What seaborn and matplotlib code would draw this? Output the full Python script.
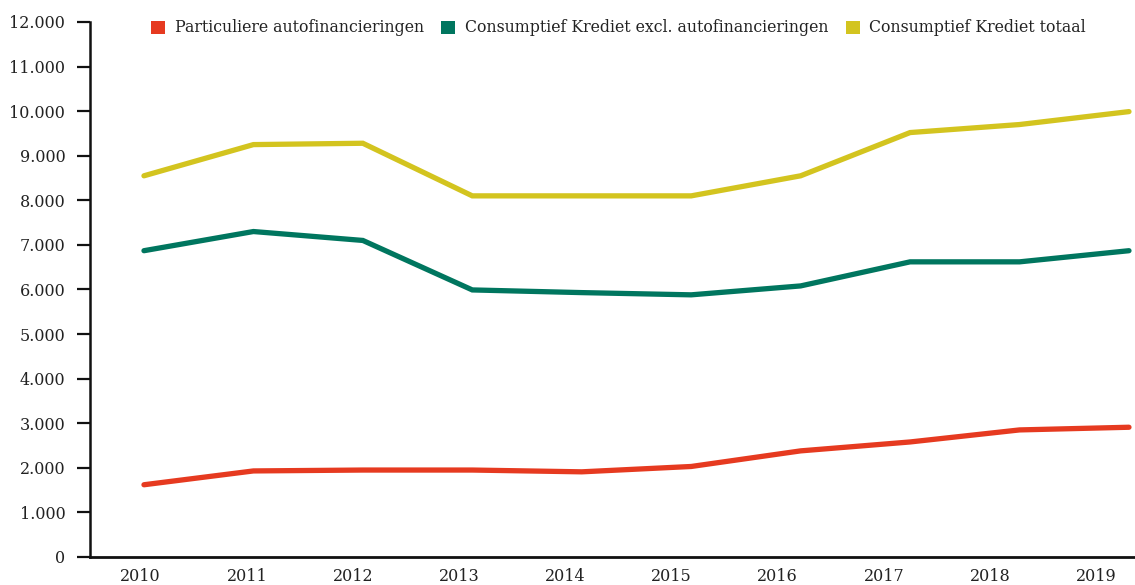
import numpy as np
import pandas as pd
import matplotlib.pyplot as plt
import matplotlib.ticker as mticker
from matplotlib.patches import Patch
import seaborn as sns

years = [2010, 2011, 2012, 2013, 2014, 2015, 2016, 2017, 2018, 2019]
series_names = [
    "Particuliere autofinancieringen",
    "Consumptief Krediet excl. autofinancieringen",
    "Consumptief Krediet totaal",
]
auto = [1620, 1930, 1950, 1950, 1910, 2030, 2380, 2580, 2850, 2910]
excl_auto = [6870, 7300, 7100, 5990, 5930, 5880, 6080, 6620, 6620, 6870]
totaal = [8550, 9250, 9280, 8100, 8100, 8100, 8550, 9520, 9700, 9990]
colors = ["#e63a20", "#00765f", "#d3c41f"]

df = pd.DataFrame({"jaar": years, series_names[0]: auto,
                   series_names[1]: excl_auto, series_names[2]: totaal})
long_df = df.melt(id_vars="jaar", var_name="reeks", value_name="waarde")

sns.set_style("white")
plt.rcParams["font.family"] = ["DejaVu Serif"]
plt.rcParams["text.color"] = "#222222"

fig = plt.figure(figsize=(11.35, 5.85), dpi=100)
ax = fig.add_axes([0.0793, 0.0479, 0.9207, 0.9145])

sns.lineplot(data=long_df, x="jaar", y="waarde", hue="reeks",
             hue_order=series_names, palette=colors, linewidth=3.8,
             legend=False, ax=ax, solid_capstyle="round", solid_joinstyle="miter")

# axes ranges / ticks
ax.set_xlim(2009.507, 2019.055)
ax.set_ylim(0, 12000)
ax.set_yticks(range(0, 12001, 1000))
ax.yaxis.set_major_formatter(mticker.FuncFormatter(lambda v, p: f"{int(v):,}".replace(",", ".")))
ax.set_xticks(np.linspace(2009.97, 2018.70, len(years)), labels=[str(y) for y in years])
ax.tick_params(axis="y", left=True, length=9.5, width=1.6, color="#111111", labelsize=11.5,
               labelcolor="#222222", pad=8.3)
ax.tick_params(axis="x", bottom=False, length=0, labelsize=11.5, labelcolor="#222222", pad=8)
ax.set_xlabel("")
ax.set_ylabel("")

for s in ["top", "right"]:
    ax.spines[s].set_visible(False)
ax.spines["left"].set_linewidth(1.8)
ax.spines["bottom"].set_linewidth(2.0)
ax.spines["left"].set_color("#111111")
ax.spines["bottom"].set_color("#111111")

handles = [Patch(facecolor=c, edgecolor="none") for c in colors]
ax.legend(handles, series_names, loc="center", bbox_to_anchor=(0.5058, 0.9888),
          ncol=3, frameon=False, fontsize=11.3, handlelength=0.9, handleheight=0.9,
          handletextpad=0.6, columnspacing=1.1, borderaxespad=0)

fig.savefig("out.png", dpi=100)
